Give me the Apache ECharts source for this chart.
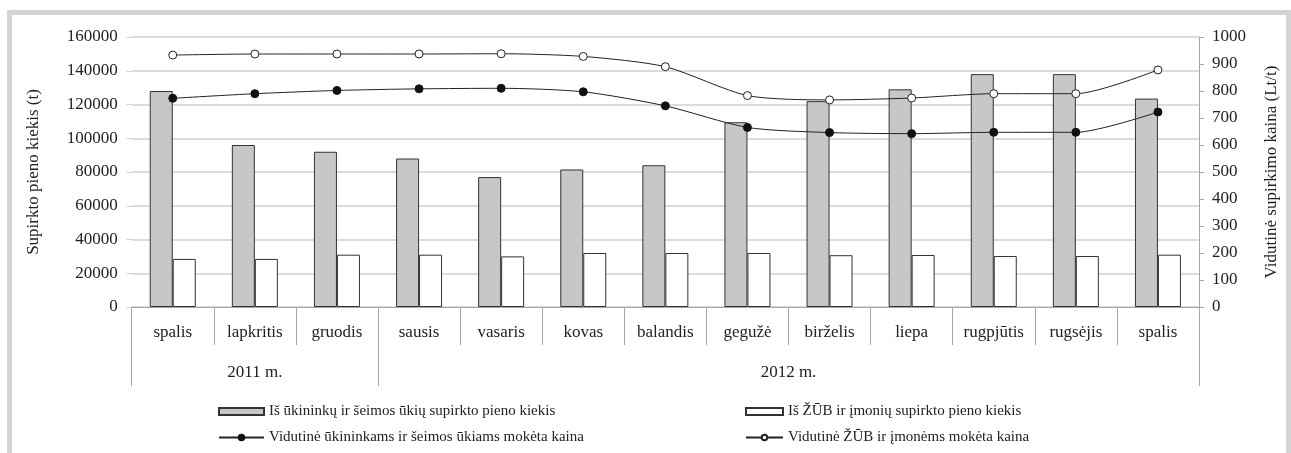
<!DOCTYPE html>
<html>
<head>
<meta charset="utf-8">
<script src="https://cdn.jsdelivr.net/npm/echarts@6/dist/echarts.min.js"></script>
<style>
html,body{margin:0;padding:0;background:#fff;}
#chart{position:absolute;left:0;top:0;width:1291px;height:453px;}
#frame{position:absolute;left:7px;top:10px;width:1284px;height:470px;box-sizing:border-box;border:5px solid #d4d4d4;pointer-events:none;}
</style>
</head>
<body>
<div id="chart"></div>
<div id="frame"></div>
<script>
const months = ['spalis','lapkritis','gruodis','sausis','vasaris','kovas','balandis','gegužė','birželis','liepa','rugpjūtis','rugsėjis','spalis'];
const yearLabels = ['2011 m.','2012 m.'];
const yearSpans = [3, 10];
const seriesNames = [
  'Iš ūkininkų ir šeimos ūkių supirkto pieno kiekis',
  'Iš ŽŪB ir įmonių supirkto pieno kiekis',
  'Vidutinė ūkininkams ir šeimos ūkiams mokėta kaina',
  'Vidutinė ŽŪB ir įmonėms mokėta kaina'
];
const farmQty = [128000, 96000, 92000, 88000, 77000, 81500, 84000, 109500, 122000, 129000, 138000, 138000, 123500];
const companyQty = [28500, 28500, 31000, 31000, 30000, 32000, 32000, 32000, 30700, 30800, 30200, 30200, 31000];
const farmPrice = [773, 790, 802, 808, 810, 797, 745, 665, 646, 642, 647, 647, 722];
const companyPrice = [933, 937, 937, 937, 938, 928, 890, 783, 767, 774, 790, 790, 878];
const leftTicks = {min: 0, max: 160000, interval: 20000};
const rightTicks = {min: 0, max: 1000, interval: 100};

// year group boundaries and centers
const yearBounds = [0];
yearSpans.forEach(s => yearBounds.push(yearBounds[yearBounds.length - 1] + s));
const yearCenters = yearSpans.map((s, i) => yearBounds[i] + s / 2);

const FONT = 'Liberation Serif';
const txt = '#222';
const grayLine = '#a6a6a6';

const chart = echarts.init(document.getElementById('chart'), null, {renderer: 'canvas'});
chart.setOption({
  animation: false,
  backgroundColor: '#fff',
  grid: {left: 131.7, right: 92, top: 37, bottom: 146, containLabel: false},
  legend: [
    {
      orient: 'vertical', left: 218, top: 404, padding: 0,
      itemWidth: 45, itemHeight: 7, itemGap: 11,
      data: [{name: seriesNames[0], icon: 'rect'}, {name: seriesNames[2]}],
      textStyle: {fontFamily: FONT, fontSize: 15, color: txt}
    },
    {
      orient: 'vertical', left: 745, top: 404, padding: 0,
      itemWidth: 37, itemHeight: 7, itemGap: 11,
      data: [{name: seriesNames[1], icon: 'rect'}, {name: seriesNames[3]}],
      textStyle: {fontFamily: FONT, fontSize: 15, color: txt}
    }
  ],
  xAxis: [
    {
      type: 'category', data: months, position: 'bottom',
      axisLine: {show: true, lineStyle: {color: grayLine, width: 1}},
      axisTick: {show: true, interval: 0, length: 38, lineStyle: {color: grayLine}},
      axisLabel: {interval: 0, margin: 17, fontFamily: FONT, fontSize: 17, color: txt},
      splitLine: {show: false}
    },
    {
      type: 'value', min: yearBounds[0], max: yearBounds[yearBounds.length - 1], position: 'bottom',
      axisLine: {show: false},
      axisTick: {show: true, length: 79, customValues: yearBounds, lineStyle: {color: grayLine}},
      axisLabel: {
        show: true, margin: 57, customValues: yearCenters, fontFamily: FONT, fontSize: 17, color: txt,
        formatter: v => { const i = yearCenters.indexOf(v); return i >= 0 ? yearLabels[i] : ''; }
      },
      splitLine: {show: false}
    }
  ],
  yAxis: [
    {
      type: 'value', position: 'left', min: leftTicks.min, max: leftTicks.max, interval: leftTicks.interval,
      name: 'Supirkto pieno kiekis (t)', nameLocation: 'middle', nameRotate: 90, nameGap: 90,
      nameTextStyle: {fontFamily: FONT, fontSize: 17, color: txt},
      axisLine: {show: false},
      axisTick: {show: true, length: 5, lineStyle: {color: '#cfcfcf'}},
      axisLabel: {margin: 14, fontFamily: FONT, fontSize: 17, color: txt, formatter: v => String(v)},
      splitLine: {show: true, lineStyle: {color: '#cfcfcf', width: 1.5}}
    },
    {
      type: 'value', position: 'right', min: rightTicks.min, max: rightTicks.max, interval: rightTicks.interval,
      name: 'Vidutinė supirkimo kaina (Lt/t)', nameLocation: 'middle', nameRotate: 90, nameGap: 64,
      nameTextStyle: {fontFamily: FONT, fontSize: 17, color: txt},
      axisLine: {show: true, lineStyle: {color: grayLine, width: 1}},
      axisTick: {show: true, length: 5, lineStyle: {color: grayLine}},
      axisLabel: {margin: 13, fontFamily: FONT, fontSize: 17, color: txt, formatter: v => String(v)},
      splitLine: {show: false}
    }
  ],
  series: [
    {
      name: seriesNames[0], type: 'bar', xAxisIndex: 0, yAxisIndex: 0, data: farmQty,
      barWidth: 23, barGap: '0%',
      itemStyle: {color: '#c6c7c9', borderColor: '#333', borderWidth: 1}
    },
    {
      name: seriesNames[1], type: 'bar', xAxisIndex: 0, yAxisIndex: 0, data: companyQty,
      barWidth: 23, barGap: '0%',
      itemStyle: {color: '#ffffff', borderColor: '#333', borderWidth: 1}
    },
    {
      name: seriesNames[2], type: 'line', xAxisIndex: 0, yAxisIndex: 1, data: farmPrice,
      smooth: 0.25, symbol: 'circle', symbolSize: 8, z: 5,
      lineStyle: {color: '#222', width: 1},
      itemStyle: {color: '#111', borderColor: '#111', borderWidth: 1}
    },
    {
      name: seriesNames[3], type: 'line', xAxisIndex: 0, yAxisIndex: 1, data: companyPrice,
      smooth: 0.25, symbol: 'circle', symbolSize: 8, z: 5,
      lineStyle: {color: '#222', width: 1},
      itemStyle: {color: '#ffffff', borderColor: '#222', borderWidth: 1}
    }
  ]
});
</script>
</body>
</html>
